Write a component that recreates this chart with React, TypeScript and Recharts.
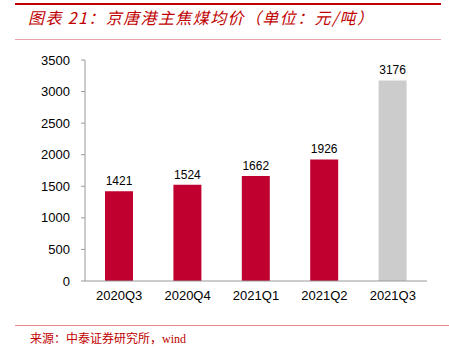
import React from "react";
import { BarChart, Bar, XAxis, YAxis, Cell, LabelList } from "recharts";

const categories = ["2020Q3", "2020Q4", "2021Q1", "2021Q2", "2021Q3"];
const prices = [1421, 1524, 1662, 1926, 3176];
const barColors = ["#C0002F", "#C0002F", "#C0002F", "#C0002F", "#CCCCCC"];
const yTicks = [0, 500, 1000, 1500, 2000, 2500, 3000, 3500];
const boundaryTicks = [0, 1, 2, 3, 4, 5];

const title = "图表 21：京唐港主焦煤均价（单位：元/吨）";
const source = "来源：中泰证券研究所，wind";

const data = categories.map((c, i) => ({ name: c, value: prices[i] }));

const axisFont = { fontFamily: "'Liberation Sans', Arial, sans-serif", fontSize: 13, fill: "#000" };

export default function App() {
  return (
    <div style={{ position: "absolute", left: 0, top: 0, width: 449, height: 356, background: "#fff", overflow: "hidden" }}>
      <div style={{ position: "absolute", left: 15, top: 2.5, width: 426, height: 2, background: "#C00000" }} />
      <div
        style={{
          position: "absolute",
          left: 28,
          top: 8,
          lineHeight: "19px",
          fontSize: 16,
          fontStyle: "italic",
          letterSpacing: "1.4px",
          color: "#C00000",
          fontFamily: "'Noto Sans CJK SC', sans-serif",
          whiteSpace: "nowrap",
          textSpacingTrim: "space-all",
        } as React.CSSProperties}
      >
        {title}
      </div>
      <div style={{ position: "absolute", left: 15, top: 39, width: 426, height: 1, background: "#E9A3A8" }} />
      <div style={{ position: "absolute", left: 0, top: 0 }}>
        <BarChart width={449} height={356} data={data} margin={{ top: 60, right: 22, bottom: 45, left: 0 }}>
          <XAxis
            xAxisId="grid"
            type="number"
            dataKey={() => 0}
            domain={[0, 5]}
            ticks={boundaryTicks}
            height={0}
            tick={false}
            tickSize={4}
            axisLine={false}
            tickLine={{ stroke: "#999" }}
            allowDataOverflow
          />
          <XAxis
            xAxisId="cat"
            dataKey="name"
            height={30}
            tickLine={false}
            tickSize={4}
            tickMargin={6}
            axisLine={{ stroke: "#999" }}
            tick={axisFont}
            interval={0}
          />
          <YAxis
            width={85}
            domain={[0, 3500]}
            ticks={yTicks}
            tickSize={4}
            tickMargin={11}
            axisLine={{ stroke: "#999" }}
            tickLine={{ stroke: "#999" }}
            tick={axisFont}
            interval={0}
          />
          <Bar dataKey="value" xAxisId="cat" barSize={28} isAnimationActive={false}>
            {data.map((d, i) => (
              <Cell key={d.name} fill={barColors[i]} />
            ))}
            <LabelList
              dataKey="value"
              position="top"
              offset={6}
              style={{ fontFamily: "'Liberation Sans', Arial, sans-serif", fontSize: 12, fill: "#000" }}
            />
          </Bar>
        </BarChart>
      </div>
      <div style={{ position: "absolute", left: 15, top: 325, width: 434, height: 1, background: "#F08A8A" }} />
      <div
        style={{
          position: "absolute",
          left: 30,
          top: 331,
          lineHeight: "16px",
          fontSize: 12,
          color: "#C00000",
          fontFamily: "'Liberation Serif', 'Noto Sans CJK SC', serif",
          whiteSpace: "nowrap",
        }}
      >
        {source}
      </div>
    </div>
  );
}
